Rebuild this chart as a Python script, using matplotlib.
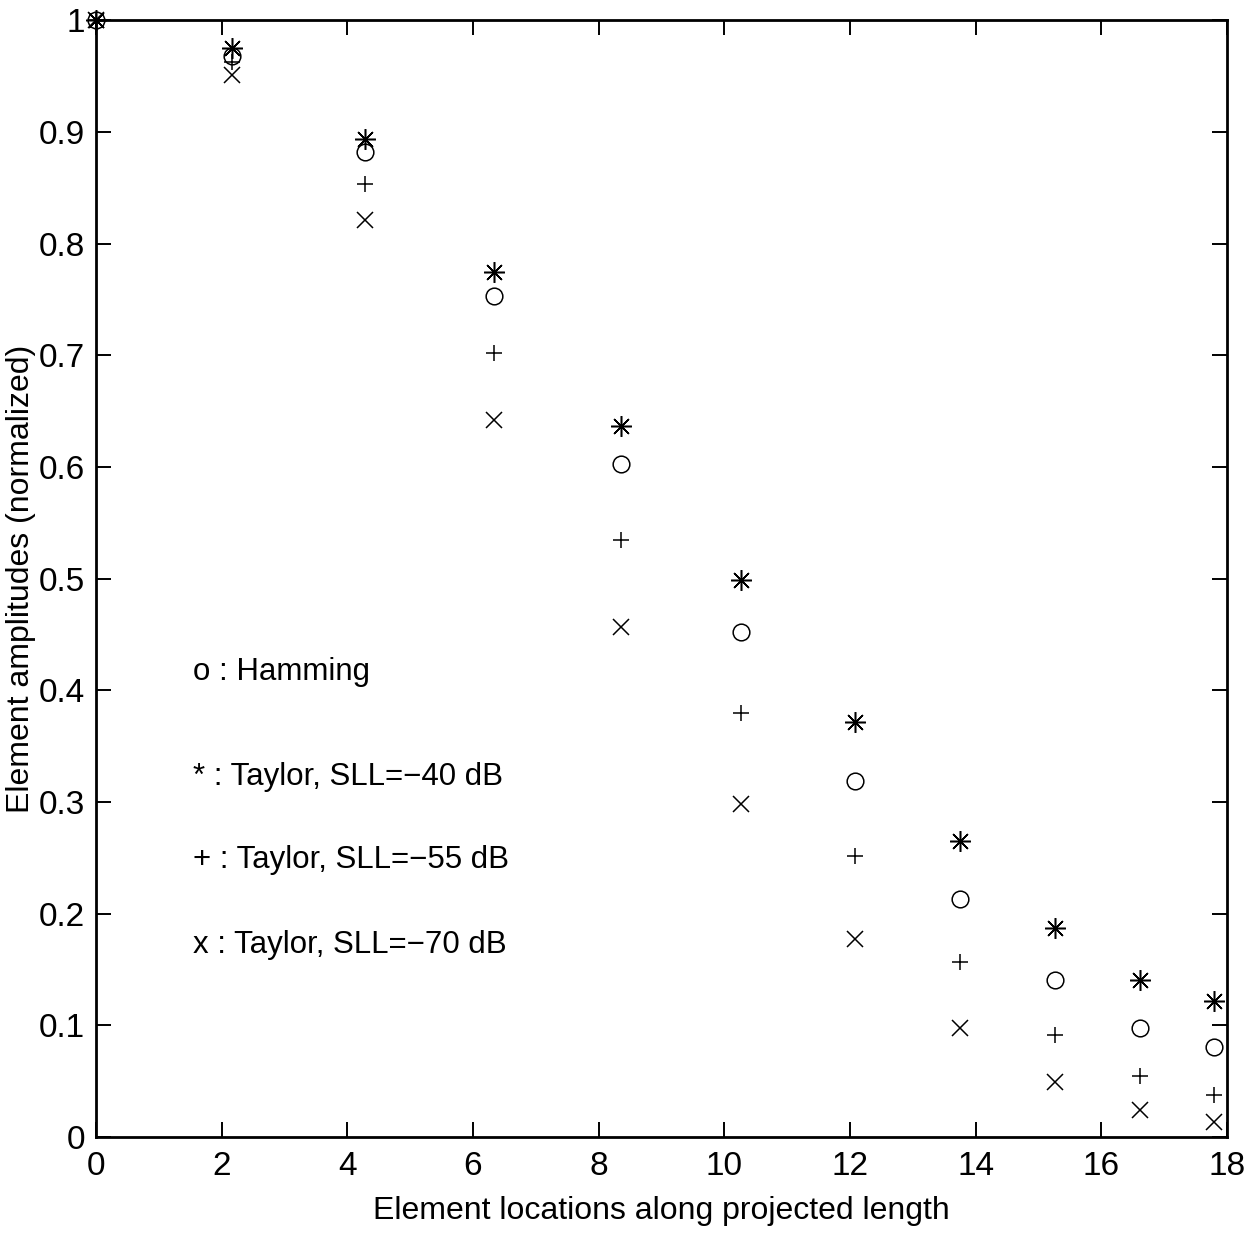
import matplotlib
matplotlib.use("Agg")
import matplotlib.pyplot as plt
from matplotlib.ticker import FuncFormatter

plt.rcParams['font.family'] = ['Liberation Sans Narrow', 'Liberation Sans', 'DejaVu Sans']

# element positions along the projected length
locations = [0, 2.17, 4.28, 6.34, 8.36, 10.27, 12.08, 13.75, 15.27, 16.62, 17.80]

# normalized amplitudes for each taper
hamming = [1.0, 0.968, 0.882, 0.753, 0.603, 0.452, 0.319, 0.213, 0.141, 0.098, 0.081]
taylor_40 = [1.0, 0.975, 0.894, 0.775, 0.637, 0.499, 0.372, 0.265, 0.187, 0.141, 0.122]
taylor_55 = [1.0, 0.963, 0.853, 0.702, 0.535, 0.380, 0.252, 0.157, 0.091, 0.055, 0.038]
taylor_70 = [1.0, 0.951, 0.821, 0.642, 0.457, 0.298, 0.177, 0.098, 0.049, 0.024, 0.013]

legend_lines = ['o : Hamming', '* : Taylor, SLL=\u221240 dB',
                '+ : Taylor, SLL=\u221255 dB', 'x : Taylor, SLL=\u221270 dB']
legend_y = [0.416, 0.322, 0.248, 0.172]

fig = plt.figure(figsize=(12.56, 12.34), dpi=100)
ax = fig.add_axes([0.0764, 0.0786, 0.9005, 0.905])

kw = dict(linestyle='none', color='black', markeredgewidth=1.1, clip_on=False)
ax.plot(locations, hamming, marker='o', markerfacecolor='none', markersize=12, **kw)
ax.plot(locations, taylor_40, marker=(8, 2, 0), markersize=15, **kw)
ax.plot(locations, taylor_55, marker='+', markersize=12, **kw)
ax.plot(locations, taylor_70, marker='x', markersize=12, **kw)

for txt, yy in zip(legend_lines, legend_y):
    ax.text(1.54, yy, txt, fontsize=22.5, va='center', ha='left')

ax.set_xlim(0, 18)
ax.set_ylim(0, 1)
ax.set_xticks(range(0, 19, 2))
ax.set_yticks([i / 10 for i in range(11)])
ax.yaxis.set_major_formatter(FuncFormatter(lambda v, p: '%g' % round(v, 1)))
ax.tick_params(axis='both', direction='in', length=11, width=1.4, labelsize=24,
               top=True, right=True)
ax.tick_params(axis='x', pad=10)
ax.tick_params(axis='y', pad=8)
for s in ax.spines.values():
    s.set_linewidth(2)

ax.set_xlabel('Element locations along projected length', fontsize=23, labelpad=10)
ax.set_ylabel('Element amplitudes (normalized)', fontsize=23, labelpad=2)

fig.savefig('out.png', dpi=100)
